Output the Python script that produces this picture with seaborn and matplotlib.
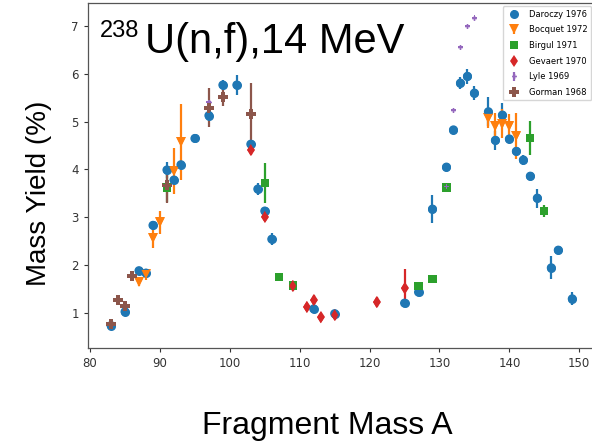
import matplotlib
matplotlib.use("Agg")
import matplotlib.pyplot as plt
import seaborn as sns
import numpy as np

# ---- data ----
dar_x = [83, 85, 87, 88, 89, 91, 92, 93, 95, 97, 99, 101, 103, 104, 105, 106, 112, 115,
         125, 127, 129, 131, 132, 133, 134, 135, 137, 138, 139, 140, 141, 142, 143, 144, 146, 147, 149]
dar_y = [0.73, 1.02, 1.88, 1.83, 2.83, 3.99, 3.78, 4.10, 4.65, 5.13, 5.77, 5.77, 4.53, 3.59, 3.13, 2.54, 1.08, 0.98,
         1.20, 1.43, 3.17, 4.05, 4.83, 5.81, 5.95, 5.60, 5.21, 4.61, 5.14, 4.64, 4.38, 4.20, 3.86, 3.40, 1.94, 2.31, 1.29]
dar_e = [0.10, 0.04, 0.04, 0.04, 0.10, 0.17, 0.04, 0.04, 0.03, 0.12, 0.10, 0.20, 0.05, 0.13, 0.05, 0.13, 0.04, 0.04,
         0.04, 0.04, 0.30, 0.04, 0.04, 0.12, 0.15, 0.15, 0.30, 0.20, 0.25, 0.05, 0.05, 0.10, 0.05, 0.20, 0.24, 0.05, 0.14]

boc_x = [87, 88, 89, 90, 92, 93, 137, 138, 139, 140, 141]
boc_y = [1.65, 1.80, 2.56, 2.89, 3.96, 4.58, 5.07, 4.91, 4.96, 4.91, 4.70]
boc_e = [0.10, 0.12, 0.21, 0.25, 0.48, 0.80, 0.20, 0.28, 0.30, 0.25, 0.48]

bir_x = [91, 105, 107, 109, 127, 129, 131, 143, 145]
bir_y = [3.62, 3.72, 1.75, 1.57, 1.56, 1.71, 3.62, 4.66, 3.13]
bir_e = [0.30, 0.42, 0.0, 0.0, 0.0, 0.0, 0.0, 0.35, 0.12]

gev_x = [103, 105, 109, 111, 112, 113, 115, 121, 125]
gev_y = [4.41, 3.01, 1.56, 1.12, 1.26, 0.90, 0.95, 1.22, 1.51]
gev_e = [0.10, 0.08, 0.10, 0.07, 0.10, 0.08, 0.10, 0.10, 0.40]

lyl_x = [97, 131, 132, 133, 134, 135]
lyl_y = [5.41, 3.64, 5.24, 6.56, 7.00, 7.18]
lyl_e = [0.0, 0.0, 0.0, 0.0, 0.0, 0.0]

gor_x = [83, 84, 85, 86, 91, 97, 99, 103]
gor_y = [0.76, 1.27, 1.13, 1.77, 3.67, 5.29, 5.52, 5.17]
gor_e = [0.08, 0.05, 0.05, 0.05, 0.38, 0.41, 0.20, 0.65]

labels = ["Daroczy 1976", "Bocquet 1972", "Birgul 1971", "Gevaert 1970", "Lyle 1969", "Gorman 1968"]

sns.set_style("ticks")
plt.rcParams['font.family'] = ['DejaVu Sans']
plt.rcParams['text.color'] = 'black'
plt.rcParams['axes.labelcolor'] = 'black'

pal = sns.color_palette("tab10")
fig = plt.figure(figsize=(5.92, 4.43), dpi=100)
ax = fig.add_axes([0.1486, 0.2145, 0.857, 0.779])

series = [
    (dar_x, dar_y, dar_e, 'o', 6.5, pal[0]),
    (boc_x, boc_y, boc_e, 'v', 6.5, pal[1]),
    (bir_x, bir_y, bir_e, 's', 6.0, pal[2]),
    (gev_x, gev_y, gev_e, 'd', 6.0, pal[3]),
    (lyl_x, lyl_y, lyl_e, 'P', 3.5, pal[4]),
    (gor_x, gor_y, gor_e, 'P', 7.0, pal[5]),
]
for (x, y, e, m, ms, c), lab in zip(series, labels):
    ax.errorbar(x, y, yerr=e, fmt=m, ms=ms, color=c, elinewidth=1.6, label=lab, mew=0)
    sns.scatterplot(x=x, y=y, marker=m, s=ms ** 2, color=c, edgecolor='none', ax=ax, legend=False, zorder=3)

ax.set_xlim(79.7, 152.3)
ax.set_ylim(0.26, 7.49)
ax.set_xticks([80, 90, 100, 110, 120, 130, 140, 150])
ax.set_yticks([1, 2, 3, 4, 5, 6, 7])
ax.tick_params(labelsize=8.5, length=3, width=0.8, colors='#333333')
for s in ax.spines.values():
    s.set_linewidth(0.9)
    s.set_color('#555555')

ax.set_xlabel("Fragment Mass A", fontsize=23, family="Liberation Sans")
ax.set_ylabel("Mass Yield (%)", fontsize=20, family="Liberation Sans")
ax.xaxis.set_label_coords(0.471, -0.182)
ax.yaxis.set_label_coords(-0.071, 0.449)

fig.text(100 / 592, (443 - 37) / 443, "238", fontsize=17, family="Liberation Sans", va='baseline', ha='left')
fig.text(145 / 592, (443 - 53) / 443, "U(n,f),14 MeV", fontsize=30, family="Liberation Sans", va='baseline', ha='left')

ax.legend(loc='upper right', bbox_to_anchor=(0.992, 0.99), borderaxespad=0,
          fontsize=6, labelspacing=0.8)

fig.savefig("out.png", dpi=100)
